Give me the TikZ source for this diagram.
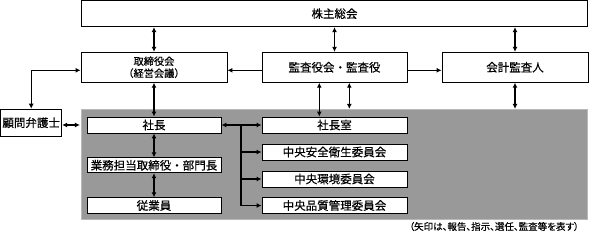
\documentclass[tikz,border=0pt]{standalone}
\usepackage{fontspec}
\setmainfont{Noto Sans CJK JP}[FakeBold=0.5]
\newfontfamily\capfont[RawFeature=+palt,FakeBold=0.4]{Noto Sans CJK JP}
\usetikzlibrary{arrows.meta,calc}
\definecolor{panelgray}{RGB}{153,153,153}
\definecolor{paneledge}{RGB}{185,185,185}
\begin{document}
\begin{tikzpicture}[x=1pt,y=-1pt,
  box/.style={draw=black,line width=0.9pt,fill=white,inner sep=0pt,font=\fontsize{11.5}{13}\selectfont},
  conn/.style={line width=1.1pt,arrows={Latex[length=5pt,width=5pt]-Latex[length=5pt,width=5pt]}},
  oneway/.style={line width=1.1pt,arrows={-Latex[length=5pt,width=5pt]}},
  panel/.style={draw=paneledge,line width=1.2pt,fill=panelgray,inner sep=0pt}]
\useasboundingbox (0,0) rectangle (589,232);
\node[panel,minimum width=506pt,minimum height=110pt] (staff) at (334.5,164.5) {};
\node[box,minimum width=506pt,minimum height=26pt] (gm) at (334.5,13.7) {株主総会};
\node[box,minimum width=146pt,minimum height=30pt,align=center,font=\fontsize{10.2}{12}\selectfont] (bd) at (154,67.3) {取締役会\\（経営会議）};
\node[box,minimum width=145pt,minimum height=30pt] (au) at (334.5,67.3) {監査役会・監査役};
\node[box,minimum width=146pt,minimum height=30pt] (ac) at (515,67.3) {会計監査人};
\node[box,minimum width=61pt,minimum height=27pt] (lw) at (31.2,122.7) {顧問弁護士};
\node[box,minimum width=134pt,minimum height=16pt] (pr) at (154,125) {社長};
\node[box,minimum width=134pt,minimum height=15pt] (ex) at (154,165.3) {業務担当取締役・部門長};
\node[box,minimum width=134pt,minimum height=15.5pt] (em) at (154,205.5) {従業員};
\node[box,minimum width=145pt,minimum height=16pt] (of) at (334.5,125) {社長室};
\node[box,minimum width=145pt,minimum height=16pt] (sf) at (334.5,152) {中央安全衛生委員会};
\node[box,minimum width=145pt,minimum height=16pt] (en) at (334.5,179) {中央環境委員会};
\node[box,minimum width=145pt,minimum height=15.5pt] (ql) at (334.5,205.5) {中央品質管理委員会};
\node[anchor=east,inner sep=0pt,font=\capfont\fontsize{9.5}{11}\selectfont] (cap) at (579,226.5) {（矢印は、報告、指示、選任、監査等を表す）};
\coordinate (brx) at (241,125);
\coordinate (a1) at ($(au.south)+(-15.2,0)$);
\coordinate (a2) at ($(au.south)+(14.8,0)$);
\draw[conn] (bd.north) -- (bd.north |- gm.south);
\draw[conn] (au.north) -- (au.north |- gm.south);
\draw[conn] (ac.north) -- (ac.north |- gm.south);
\draw[oneway] ($(au.west)+(0,3)$) -- ($(bd.east)+(0,3)$);
\draw[oneway] ($(au.east)+(0,3)$) -- ($(ac.west)+(0,3)$);
\draw[conn] ($(bd.west)+(0,3)$) -| (lw.north);
\draw[conn] (bd.south) -- (pr.north);
\draw[conn] (lw.east |- pr) -- ([xshift=-1pt]staff.west |- pr);
\draw[conn] (pr.south) -- (ex.north);
\draw[conn] (ex.south) -- (em.north);
\draw[conn] (pr.east) -- (of.west);
\draw[oneway] (brx) |- (ql.west);
\draw[oneway] (brx |- sf) -- (sf.west);
\draw[oneway] (brx |- en) -- (en.west);
\draw[conn] (a1) -- (a1 |- of.north);
\draw[conn] (a2) -- (a2 |- staff.north);
\draw[conn] (ac.south) -- (ac.south |- staff.north);
\end{tikzpicture}
\end{document}
